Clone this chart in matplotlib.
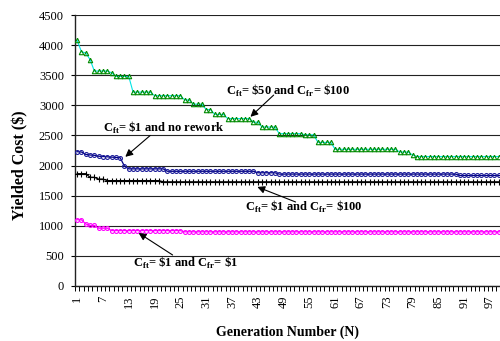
import numpy as np
import matplotlib
matplotlib.use("Agg")
import matplotlib.pyplot as plt

plt.rcParams["font.family"] = ["Liberation Serif", "DejaVu Serif"]
plt.rcParams["mathtext.fontset"] = "custom"
plt.rcParams["mathtext.rm"] = "Liberation Serif"
plt.rcParams["mathtext.bf"] = "Liberation Serif:bold"

# ------------------------------
# Data: yielded cost per generation
# ------------------------------
generations = np.arange(1, 101)

cost_ft50_fr100 = (
    [4080, 3890, 3870, 3760] + [3570] * 4 + [3540] + [3480] * 4
    + [3220] * 5 + [3160] * 7 + [3090] * 2 + [3020] * 3 + [2930] * 2
    + [2850] * 3 + [2780] * 6 + [2720] * 2 + [2640] * 4 + [2530] * 6
    + [2510] * 3 + [2385] * 4 + [2270] * 15 + [2225] * 3 + [2175]
    + [2150] * 21
)
cost_ft1_norework = (
    [2230, 2225, 2185, 2175, 2170, 2155, 2150, 2145, 2140, 2135, 2130]
    + [1990] + [1945] * 9 + [1905] * 21 + [1880] * 5 + [1858] * 42
    + [1835] * 11
)
cost_ft1_fr100 = [1865] * 3 + [1805] * 2 + [1775] * 2 + [1750] * 13 + [1730] * 80
cost_ft1_fr1 = [1100] * 2 + [1030] + [1005] * 2 + [960] * 3 + [920] * 17 + [900] * 75

xtick_labels = list(range(1, 101, 6))
ytick_values = list(range(0, 5000, 500))

# ------------------------------
# Figure
# ------------------------------
fig = plt.figure(figsize=(5.0, 3.41), dpi=100)
ax = fig.add_axes([75 / 500, 55 / 341, 430 / 500, 271 / 341])

ax.plot(generations, cost_ft50_fr100, color="#00E5E5", linewidth=0.8,
        marker="^", markersize=3.2, markerfacecolor="none",
        markeredgecolor="#008A00", markeredgewidth=0.8, zorder=3)
ax.plot(generations, cost_ft1_norework, color="#000080", linewidth=0.9,
        marker="o", markersize=2.8, markerfacecolor="none",
        markeredgecolor="#1A1A99", markeredgewidth=0.8, zorder=3)
ax.plot(generations, cost_ft1_fr100, color="black", linewidth=0.9,
        marker="+", markersize=4.5, markeredgewidth=0.8, zorder=3)
ax.plot(generations, cost_ft1_fr1, color="#FF00FF", linewidth=0.9,
        marker="o", markersize=2.8, markerfacecolor="none",
        markeredgecolor="#FF00FF", markeredgewidth=0.8, zorder=3)

# ---- axes ----
ax.set_xlim(0.5, 100.5)
ax.set_ylim(0, 4500)
ax.set_yticks(ytick_values)
ax.set_xticks(xtick_labels)
ax.set_xticklabels([str(v) for v in xtick_labels], rotation=90, fontsize=9)
ax.set_xticks(np.arange(0.5, 101, 1.0), minor=True)
ax.tick_params(axis="x", which="major", length=0, pad=7)
ax.tick_params(axis="x", which="minor", length=3.5, width=0.7, direction="out")
ax.tick_params(axis="y", length=3, width=0.8, direction="out", pad=5, labelsize=9)

ax.grid(True, axis="y", color="#222222", linewidth=0.8)
ax.set_axisbelow(True)
for side in ("top", "right"):
    ax.spines[side].set_visible(False)
for side in ("left", "bottom"):
    ax.spines[side].set_linewidth(1.0)
    ax.spines[side].set_color("#222222")

ax.set_xlabel("Generation Number (N)", fontsize=10, fontweight="bold", va="center")
ax.xaxis.set_label_coords(0.495, -0.17)
ax.set_ylabel("Yielded Cost ($)", fontsize=11.5, fontweight="bold", va="center")
ax.yaxis.set_label_coords(-0.128, 0.445)

# ---- series labels with arrows ----
def label(x, y, txt):
    ax.text(x, y, txt, fontsize=9, fontweight="bold", ha="left", va="center")

def arrow(tail, tip):
    ax.annotate("", xy=tip, xytext=tail,
                arrowprops=dict(arrowstyle="-|>", color="black", lw=0.8,
                                mutation_scale=11, shrinkA=0, shrinkB=0))

label(35.5, 3240, r"C$_{\mathbf{ft}}$= \$50 and C$_{\mathbf{fr}}$= \$100")
arrow((46.7, 3170), (41.3, 2810))

label(6.9, 2620, r"C$_{\mathbf{ft}}$= \$1 and no rework")
arrow((18.0, 2500), (12.2, 2145))

label(40.1, 1310, r"C$_{\mathbf{ft}}$= \$1 and C$_{\mathbf{fr}}$= \$100")
arrow((51.8, 1395), (42.9, 1645))

label(14.1, 380, r"C$_{\mathbf{ft}}$= \$1 and C$_{\mathbf{fr}}$= \$1")
arrow((23.2, 515), (15.3, 880))

fig.savefig("out.png", dpi=100)
